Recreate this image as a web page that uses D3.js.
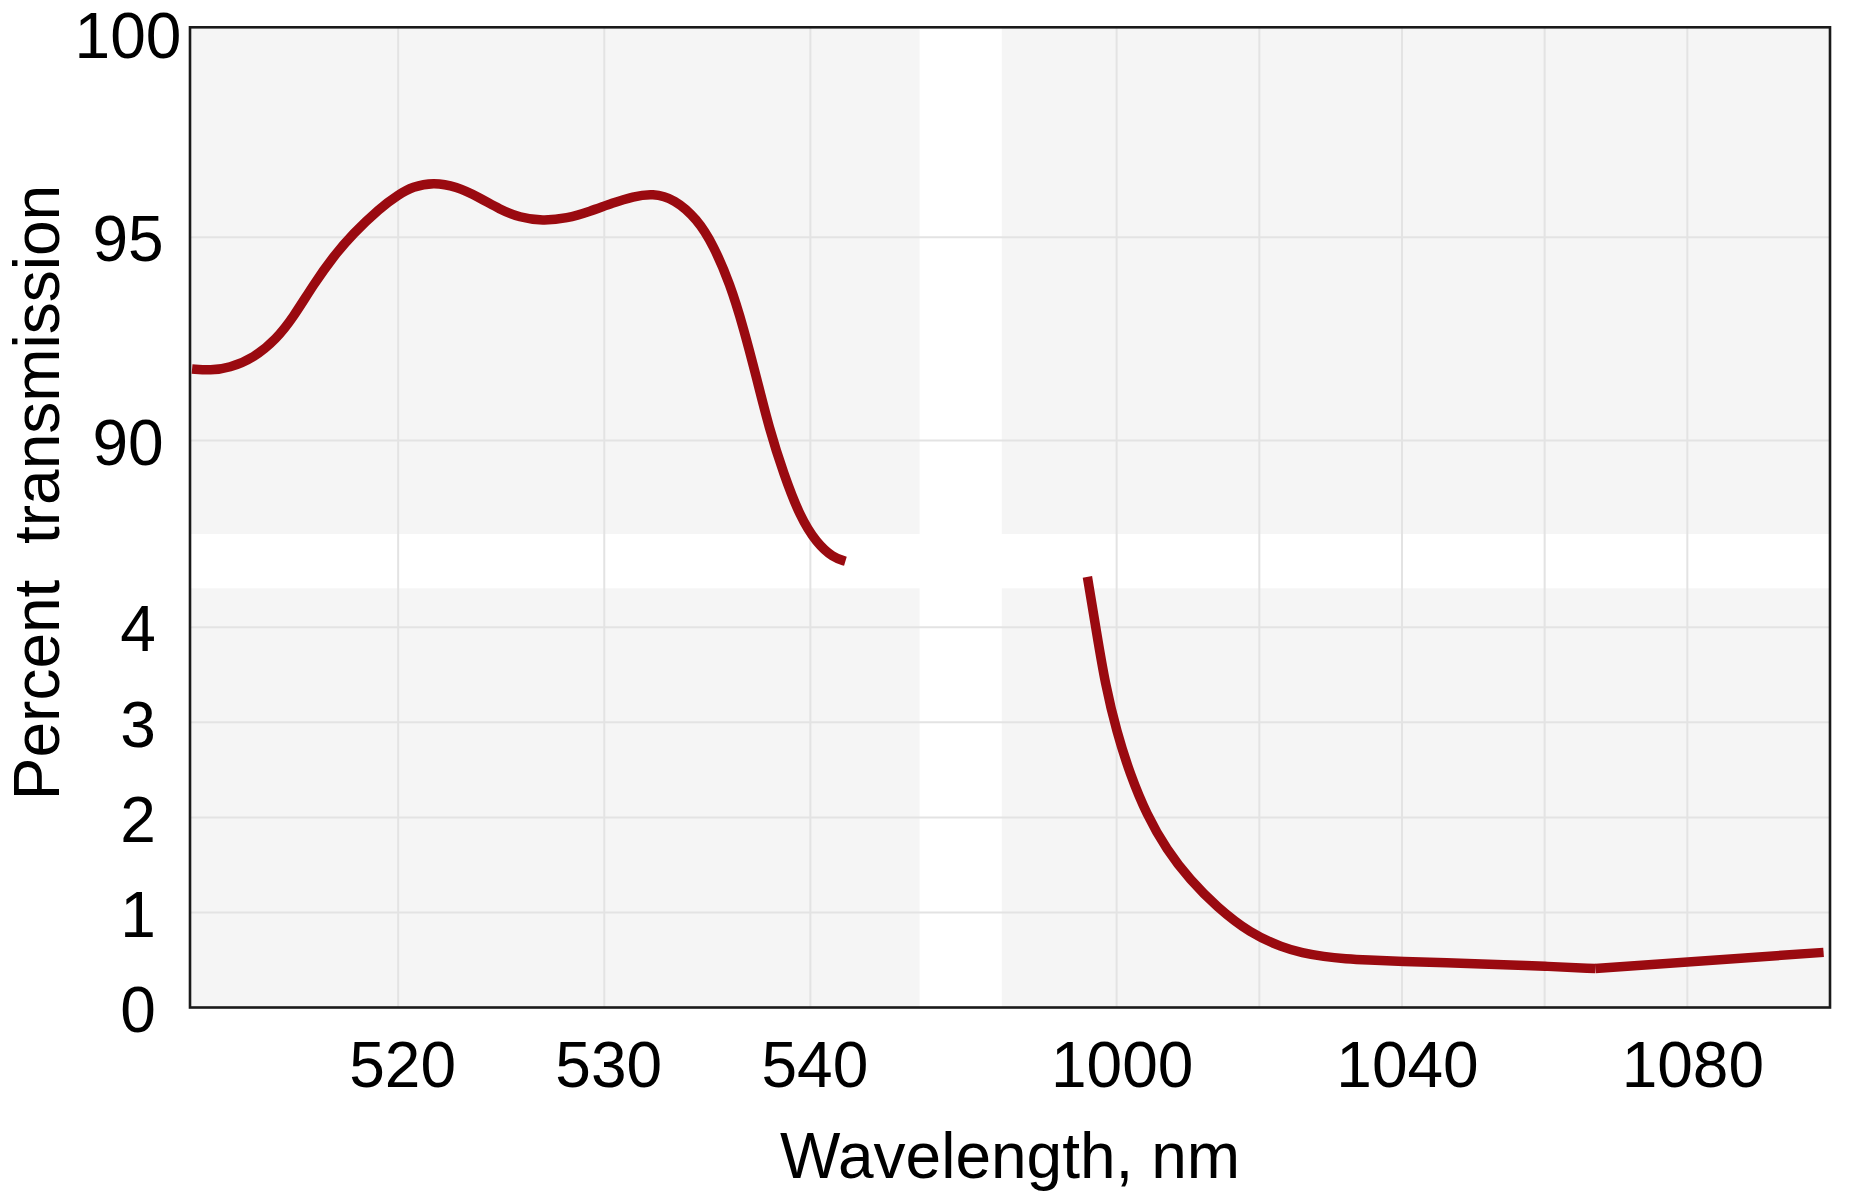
<!DOCTYPE html>
<html>
<head>
<meta charset="utf-8">
<script src="https://cdn.jsdelivr.net/npm/d3@7"></script>
<style>
  html, body { margin: 0; padding: 0; background: #ffffff; }
  text { font-family: "Liberation Sans", Arial, sans-serif; fill: #000; }
</style>
</head>
<body>
<svg id="chart" width="1861" height="1199"></svg>
<script>
// ---- data ----
const visibleWavelengths = [510.0, 510.9, 511.8, 513.0, 514.1, 514.9, 515.9, 516.85, 517.8, 519.1, 520.0, 520.7, 521.7, 522.8, 524.0, 524.9, 525.9, 527.0, 528.2, 529.3, 530.4, 531.4, 532.35, 533.4, 534.5, 535.3, 536.1, 536.75, 537.4, 538.0, 538.7, 539.5, 540.3, 541.1, 541.7];
const visibleTransmission = [91.76, 91.72, 91.78, 92.03, 92.50, 93.02, 93.84, 94.52, 95.08, 95.71, 96.04, 96.24, 96.35, 96.25, 95.96, 95.69, 95.48, 95.40, 95.46, 95.63, 95.84, 96.00, 96.08, 95.94, 95.45, 94.80, 93.85, 92.78, 91.52, 90.30, 89.18, 88.12, 87.48, 87.12, 87.03];
const irWavelengths = [995.9, 997.2, 998.4, 1000.0, 1001.9, 1004.2, 1007.0, 1010.3, 1014.0, 1018.7, 1023.3, 1026.0, 1029.0, 1032.2, 1035.0, 1040.2, 1046.0, 1053.3, 1060.0, 1067.1];
const irTransmission = [4.53, 3.94, 3.40, 2.90, 2.45, 2.03, 1.66, 1.34, 1.06, 0.78, 0.63, 0.575, 0.535, 0.512, 0.50, 0.485, 0.47, 0.453, 0.435, 0.41];
const irTailWavelengths = [1067.1, 1099.1];
const irTailTransmission = [0.41, 0.58];

const xLeftDomain = [509.9, 545.3];
const xRightDomain = [983.9, 1100];
const yUpperDomain = [87.7, 100.16];
const yLowerDomain = [0, 4.41];

const xLeftTickLabels = [520, 530, 540];
const xLeftGrid = [520, 530, 540];
const xRightTickLabels = [1000, 1040, 1080];
const xRightGrid = [1000, 1020, 1040, 1060, 1080];
const yUpperTickLabels = [100, 95, 90];
const yUpperGrid = [95, 90];
const yLowerTickLabels = [4, 3, 2, 1, 0];
const yLowerGrid = [4, 3, 2, 1];

const xTitle = "Wavelength, nm";
const yTitle = "Percent\u00a0\u00a0transmission";

// ---- layout ----
const L = 190, R = 1830, T = 27.3, B = 1007.5;
const bx0 = 919.6, bx1 = 1001.8, by0 = 534, by1 = 588.3;
const FS = 64;
const lineColor = "#9a0a10";

const svg = d3.select("#chart");

const xL = d3.scaleLinear().domain(xLeftDomain).range([L, bx0]);
const xR = d3.scaleLinear().domain(xRightDomain).range([bx1, R]);
const yU = d3.scaleLinear().domain(yUpperDomain).range([by0, T]);
const yLo = d3.scaleLinear().domain(yLowerDomain).range([B, by1]);

// panel backgrounds
const panels = [
  [xL, yU], [xR, yU], [xL, yLo], [xR, yLo]
];
svg.append("g").selectAll("rect").data(panels).join("rect")
  .attr("x", d => d[0].range()[0])
  .attr("y", d => d[1].range()[1])
  .attr("width", d => d[0].range()[1] - d[0].range()[0])
  .attr("height", d => d[1].range()[0] - d[1].range()[1])
  .attr("fill", "#f5f5f5");

// gridlines
const grid = svg.append("g").attr("stroke", "#e3e3e3").attr("stroke-width", 2);
grid.selectAll("line.vl").data(xLeftGrid).join("line").attr("class", "vl")
  .attr("x1", d => xL(d)).attr("x2", d => xL(d)).attr("y1", T).attr("y2", B);
grid.selectAll("line.vr").data(xRightGrid).join("line").attr("class", "vr")
  .attr("x1", d => xR(d)).attr("x2", d => xR(d)).attr("y1", T).attr("y2", B);
grid.selectAll("line.hu").data(yUpperGrid).join("line").attr("class", "hu")
  .attr("x1", L).attr("x2", R).attr("y1", d => yU(d)).attr("y2", d => yU(d));
grid.selectAll("line.hl").data(yLowerGrid).join("line").attr("class", "hl")
  .attr("x1", L).attr("x2", R).attr("y1", d => yLo(d)).attr("y2", d => yLo(d));

// curves
const visData = visibleWavelengths.map((w, i) => [w, visibleTransmission[i]]);
const irData = irWavelengths.map((w, i) => [w, irTransmission[i]]);
const tailData = irTailWavelengths.map((w, i) => [w, irTailTransmission[i]]);

const lineU = d3.line().x(d => xL(d[0])).y(d => yU(d[1])).curve(d3.curveBasis);
const lineLo = d3.line().x(d => xR(d[0])).y(d => yLo(d[1])).curve(d3.curveBasis);
const lineTail = d3.line().x(d => xR(d[0])).y(d => yLo(d[1])).curve(d3.curveLinear);

const curves = svg.append("g").attr("fill", "none").attr("stroke", lineColor)
  .attr("stroke-width", 9.5).attr("stroke-linecap", "butt").attr("stroke-linejoin", "round");
curves.append("path").attr("d", lineU(visData));
curves.append("path").attr("d", lineLo(irData));
curves.append("path").attr("d", lineTail(tailData));

// frame
svg.append("rect").attr("x", L).attr("y", T).attr("width", R - L).attr("height", B - T)
  .attr("fill", "none").attr("stroke", "#1a1a1a").attr("stroke-width", 2.6);

// x axes
function styleAxis(g) {
  g.select(".domain").remove();
  g.selectAll(".tick line").remove();
  g.selectAll("text").attr("font-size", FS).attr("font-family", "'Liberation Sans', Arial, sans-serif").attr("fill", "#000");
}
svg.append("g").attr("transform", `translate(0,${B})`)
  .call(d3.axisBottom(xL).tickValues(xLeftTickLabels).tickSize(0).tickPadding(34).tickFormat(d3.format("d")))
  .call(styleAxis)
  .call(g => g.selectAll("text").attr("dx", 4));
svg.append("g").attr("transform", `translate(0,${B})`)
  .call(d3.axisBottom(xR).tickValues(xRightTickLabels).tickSize(0).tickPadding(34).tickFormat(d3.format("d")))
  .call(styleAxis)
  .call(g => g.selectAll("text").attr("dx", 5));

// y axes
svg.append("g").attr("transform", `translate(${L},0)`)
  .call(d3.axisLeft(yU).tickValues(yUpperTickLabels).tickSize(0).tickFormat(d3.format("d")))
  .call(styleAxis)
  .call(g => g.selectAll("text").attr("text-anchor", "middle").attr("x", -62).attr("dy", "0.37em"));
svg.append("g").attr("transform", `translate(${L},0)`)
  .call(d3.axisLeft(yLo).tickValues(yLowerTickLabels).tickSize(0).tickFormat(d3.format("d")))
  .call(styleAxis)
  .call(g => g.selectAll("text").attr("text-anchor", "middle").attr("x", -52).attr("dy", "0.37em"));

// titles
svg.append("text").attr("x", (L + R) / 2).attr("y", 1178)
  .attr("text-anchor", "middle").attr("font-size", FS).text(xTitle);
svg.append("text").attr("transform", "translate(59,492.5) rotate(-90)")
  .attr("text-anchor", "middle").attr("font-size", FS).text(yTitle);
</script>
</body>
</html>
